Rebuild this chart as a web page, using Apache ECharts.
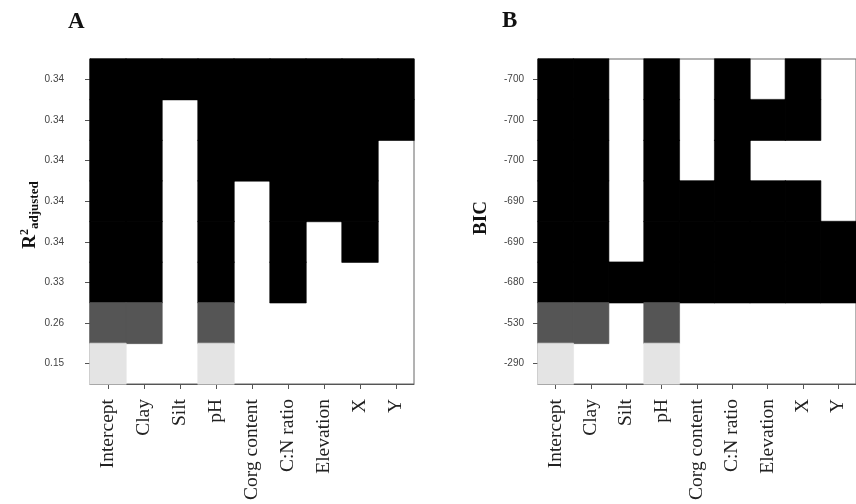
<!DOCTYPE html>
<html>
<head>
<meta charset="utf-8">
<script src="https://cdn.jsdelivr.net/npm/echarts@6/dist/echarts.min.js"></script>
<style>
html,body{margin:0;padding:0;background:#fff;}
#chart{width:856px;height:504px;}
</style>
</head>
<body>
<div id="chart"></div>
<script>
// ---- data ----
const variables = ['Intercept', 'Clay', 'Silt', 'pH', 'Corg content', 'C:N ratio', 'Elevation', 'X', 'Y'];

// Panel A: adjusted R2 (rows top to bottom)
const r2Ticks = ['0.34', '0.34', '0.34', '0.34', '0.34', '0.33', '0.26', '0.15'];
const r2Models = [
  [1, 1, 1, 1, 1, 1, 1, 1, 1],
  [1, 1, 0, 1, 1, 1, 1, 1, 1],
  [1, 1, 0, 1, 1, 1, 1, 1, 0],
  [1, 1, 0, 1, 0, 1, 1, 1, 0],
  [1, 1, 0, 1, 0, 1, 0, 1, 0],
  [1, 1, 0, 1, 0, 1, 0, 0, 0],
  [1, 1, 0, 1, 0, 0, 0, 0, 0],
  [1, 0, 0, 1, 0, 0, 0, 0, 0]
];

// Panel B: BIC (rows top to bottom)
const bicTicks = ['-700', '-700', '-700', '-690', '-690', '-680', '-530', '-290'];
const bicModels = [
  [1, 1, 0, 1, 0, 1, 0, 1, 0],
  [1, 1, 0, 1, 0, 1, 1, 1, 0],
  [1, 1, 0, 1, 0, 1, 0, 0, 0],
  [1, 1, 0, 1, 1, 1, 1, 1, 0],
  [1, 1, 0, 1, 1, 1, 1, 1, 1],
  [1, 1, 1, 1, 1, 1, 1, 1, 1],
  [1, 1, 0, 1, 0, 0, 0, 0, 0],
  [1, 0, 0, 1, 0, 0, 0, 0, 0]
];

// ---- shading by model score ----
function shadeR2(v) { return v >= 0.33 ? '#000000' : (v >= 0.2 ? '#555555' : '#e4e4e4'); }
function shadeBIC(v) { return v <= -600 ? '#000000' : (v <= -400 ? '#555555' : '#e4e4e4'); }

function buildCells(models, ticks, shade) {
  const out = [];
  models.forEach(function (row, r) {
    row.forEach(function (inc, c) {
      if (inc) {
        const col = shade(parseFloat(ticks[r]));
        out.push({ value: [c, r, 1], itemStyle: { color: col, borderColor: col, borderWidth: 0.6 } });
      }
    });
  });
  return out;
}

const serif = '"Liberation Serif", "Times New Roman", serif';
const sans = '"Liberation Sans", Arial, sans-serif';

function xAxisCfg(gi) {
  return {
    type: 'category', gridIndex: gi, data: variables,
    axisLine: { show: true, lineStyle: { color: '#555', width: 1 } },
    axisTick: { show: true, alignWithLabel: true, length: 5, lineStyle: { color: '#555' } },
    axisLabel: { interval: 0, rotate: 90, margin: 15, fontFamily: serif, fontSize: 19.5, color: '#222' },
    splitLine: { show: false }
  };
}
function yAxisCfg(gi, ticks, margin) {
  return {
    type: 'category', gridIndex: gi, data: ticks, inverse: true,
    axisLine: { show: true, lineStyle: { color: '#555', width: 1 } },
    axisTick: { show: true, alignWithLabel: true, length: 5, lineStyle: { color: '#555' } },
    axisLabel: { interval: 0, margin: margin, fontFamily: sans, fontSize: 10, color: '#444' },
    splitLine: { show: false }
  };
}

const chart = echarts.init(document.getElementById('chart'));
chart.setOption({
  backgroundColor: '#ffffff',
  animation: false,
  grid: [
    { left: 90, top: 59, width: 324, height: 325, show: true, borderColor: '#666', borderWidth: 1, backgroundColor: 'transparent' },
    { left: 538, top: 59, width: 324, height: 325, show: true, borderColor: '#666', borderWidth: 1, backgroundColor: 'transparent' }
  ],
  xAxis: [xAxisCfg(0), xAxisCfg(1)],
  yAxis: [yAxisCfg(0, r2Ticks, 26), yAxisCfg(1, bicTicks, 14)],
  series: [
    { type: 'heatmap', xAxisIndex: 0, yAxisIndex: 0, data: buildCells(r2Models, r2Ticks, shadeR2),
      emphasis: { disabled: true } },
    { type: 'heatmap', xAxisIndex: 1, yAxisIndex: 1, data: buildCells(bicModels, bicTicks, shadeBIC),
      emphasis: { disabled: true } }
  ],
  graphic: [
    { type: 'text', left: 68, top: 11, style: { text: 'A', font: 'bold 23px ' + serif, fill: '#111' } },
    { type: 'text', left: 502, top: 10, style: { text: 'B', font: 'bold 23px ' + serif, fill: '#111' } },
    { type: 'text', x: 30, y: 215, rotation: Math.PI / 2,
      style: {
        text: '{r|R}{s|2}{a|adjusted}', align: 'center', verticalAlign: 'middle', fill: '#111',
        rich: {
          r: { font: 'bold 19px ' + serif, fill: '#111' },
          s: { font: 'bold 12px ' + serif, fill: '#111', padding: [0, 0, 11, 0] },
          a: { font: 'bold 13px ' + serif, fill: '#111', padding: [10, 0, 0, 0] }
        }
      } },
    { type: 'text', x: 481, y: 218, rotation: Math.PI / 2,
      style: { text: 'BIC', font: 'bold 19px ' + serif, fill: '#111', align: 'center', verticalAlign: 'middle' } }
  ]
});
</script>
</body>
</html>
